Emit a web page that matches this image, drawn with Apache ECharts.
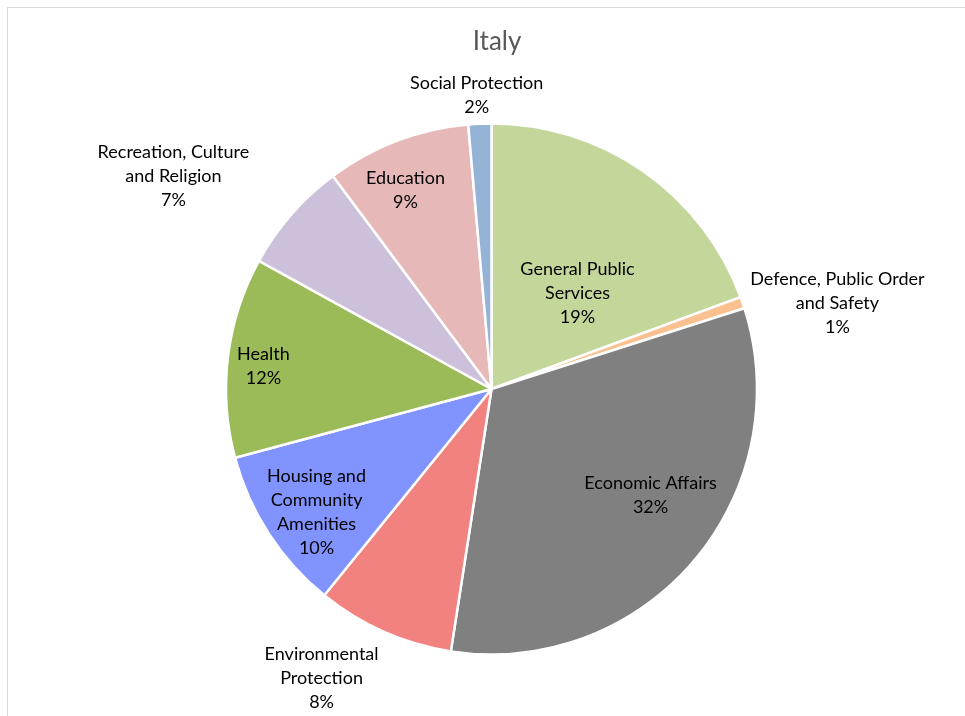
<!DOCTYPE html>
<html>
<head>
<meta charset="utf-8">
<script src="https://cdn.jsdelivr.net/npm/echarts@6/dist/echarts.min.js"></script>
<style>
  html, body { margin: 0; padding: 0; background: #fff; overflow: hidden; }
  #frame { position: absolute; left: 7px; top: 7px; width: 1200px; height: 1200px; border: 1px solid #d9d9d9; }
  #chart { position: absolute; left: 0; top: 0; width: 965px; height: 716px; }
</style>
</head>
<body>
<div id="frame"></div>
<div id="chart"></div>
<script>
const title = 'Italy';
const categories = [
  'General Public Services',
  'Defence, Public Order and Safety',
  'Economic Affairs',
  'Environmental Protection',
  'Housing and Community Amenities',
  'Health',
  'Recreation, Culture and Religion',
  'Education',
  'Social Protection'
];
const labelTexts = [
  'General Public\nServices',
  'Defence, Public Order\nand Safety',
  'Economic Affairs',
  'Environmental\nProtection',
  'Housing and\nCommunity\nAmenities',
  'Health',
  'Recreation, Culture\nand Religion',
  'Education',
  'Social Protection'
];
const values = [19.4, 0.7, 32.4, 8.4, 10.0, 12.2, 6.8, 8.8, 1.4];
const colors = ['#C4D79B', '#FAC090', '#808080', '#F2827F', '#8093FF', '#9BBB59', '#CCC0DA', '#E6B9B8', '#95B3D7'];

// label placement (style): offset of label centre from pie centre, in radius units
const labelPos = [
  [0.324, -0.362], [1.303, -0.324], [0.599, 0.399], [-0.640, 1.088], [-0.659, 0.463],
  [-0.859, -0.087], [-1.198, -0.802], [-0.324, -0.750], [-0.056, -1.107]
];
const CX = 491.5, CY = 389, R = 265.5;
const FONT = 'Lato';

const chart = echarts.init(document.getElementById('chart'), null, { renderer: 'canvas' });
chart.setOption({
  animation: false,
  title: {
    text: title, left: 492, textAlign: 'center', top: 24,
    textStyle: { fontFamily: FONT, fontSize: 26, fontWeight: 'normal', color: '#595959' }
  },
  series: [{
    type: 'pie',
    center: [CX, CY],
    radius: [0, R],
    startAngle: 90,
    clockwise: true,
    percentPrecision: 0,
    itemStyle: { borderColor: '#ffffff', borderWidth: 2.5 },
    labelLine: { show: false },
    label: {
      show: true,
      position: 'inside',
      fontFamily: FONT,
      fontSize: 18,
      lineHeight: 24,
      color: '#000000',
      align: 'center',
      formatter: p => labelTexts[p.dataIndex] + '\n' + p.percent + '%'
    },
    labelLayout: p => ({
      x: CX + labelPos[p.dataIndex][0] * R,
      y: CY + labelPos[p.dataIndex][1] * R,
      align: 'center',
      verticalAlign: 'middle'
    }),
    data: categories.map((c, i) => ({ name: c, value: values[i], itemStyle: { color: colors[i] } }))
  }]
});
</script>
</body>
</html>
